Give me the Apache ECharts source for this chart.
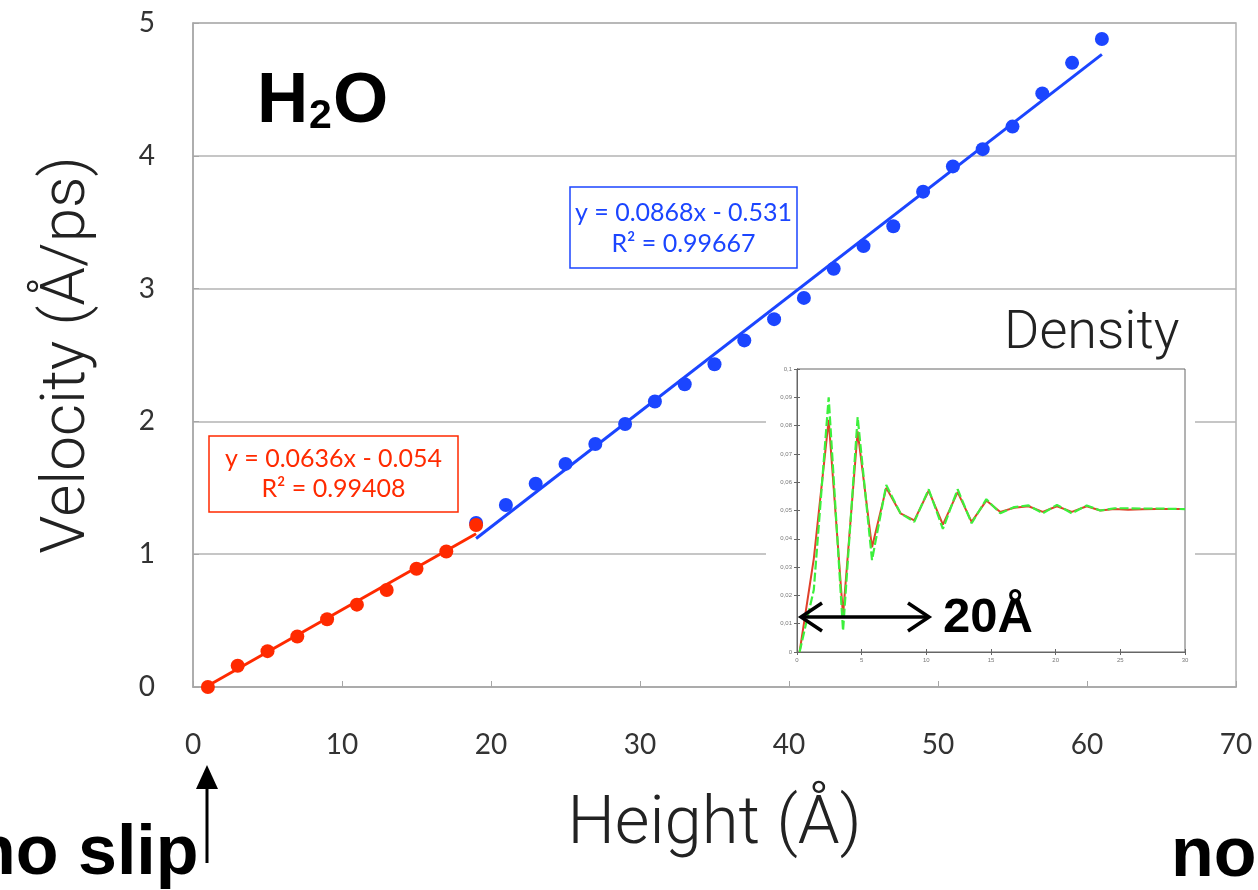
<!DOCTYPE html>
<html>
<head>
<meta charset="utf-8">
<script src="https://cdn.jsdelivr.net/npm/echarts@6/dist/echarts.min.js"></script>
<style>
  html, body { margin: 0; padding: 0; background: #ffffff; }
  #chart { width: 1258px; height: 890px; }
</style>
</head>
<body>
<div id="chart"></div>
<script>
// Velocity profile of water flowing over a wall (Height in Å, velocity in Å/ps)
const nearWallHeight   = [1, 3, 5, 7, 9, 11, 13, 15, 17, 19];
const nearWallVelocity = [0.00, 0.16, 0.27, 0.38, 0.51, 0.62, 0.73, 0.89, 1.02, 1.22];

const bulkHeight   = [19, 21, 23, 25, 27, 29, 31, 33, 35, 37, 39, 41, 43, 45, 47, 49, 51, 53, 55, 57, 59, 61];
const bulkVelocity = [1.235, 1.37, 1.53, 1.68, 1.83, 1.98, 2.15, 2.28, 2.43, 2.61, 2.77, 2.93,
                      3.15, 3.32, 3.47, 3.73, 3.92, 4.05, 4.22, 4.47, 4.70, 4.88];

// Linear fits quoted in the equation boxes
const nearWallFit = { slope: 0.0636, intercept: -0.054, r2: 0.99408 };
const bulkFit     = { slope: 0.0868, intercept: -0.531, r2: 0.99667 };

// Axis ticks of the main plot
const heightTicks   = [0, 10, 20, 30, 40, 50, 60, 70];
const velocityTicks = [0, 1, 2, 3, 4, 5];

// Density profile (inset): distance from the wall vs. density, two runs
const densityDistance = [0.2, 1.3, 2.45, 3.56, 4.69, 5.8, 6.9, 8.0, 9.07, 10.18, 11.28, 12.42, 13.5, 14.64,
                         15.72, 16.8, 17.9, 19.0, 20.1, 21.25, 22.4, 23.45, 24.56, 25.6, 26.7, 27.8, 28.9, 30.0];
const densityRunA = [0, 0.033, 0.082, 0.013, 0.078, 0.037, 0.058, 0.049, 0.0465, 0.057, 0.045, 0.0565, 0.046, 0.0535,
                     0.0495, 0.051, 0.0515, 0.0495, 0.0515, 0.0495, 0.0515, 0.0500, 0.0505, 0.0503, 0.0504, 0.0505, 0.0505, 0.0505];
const densityRunB = [0, 0.022, 0.090, 0.0075, 0.083, 0.0325, 0.059, 0.049, 0.046, 0.0575, 0.0435, 0.0575, 0.0455, 0.054,
                     0.049, 0.0512, 0.0518, 0.049, 0.052, 0.049, 0.0518, 0.0500, 0.0508, 0.0508, 0.0507, 0.0507, 0.0506, 0.0505];
const densityXTicks = [0, 5, 10, 15, 20, 25, 30];
const densityYTicks = [0, 0.01, 0.02, 0.03, 0.04, 0.05, 0.06, 0.07, 0.08, 0.09, 0.1];

const RED = '#ff2a00';
const BLUE = '#1b45ff';

function pairs(xs, ys) { return xs.map((x, i) => [x, ys[i]]); }
function fitLine(fit, xs) {
  const x0 = Math.min(...xs), x1 = Math.max(...xs);
  return [[x0, fit.slope * x0 + fit.intercept], [x1, fit.slope * x1 + fit.intercept]];
}
function fitLabel(fit) {
  const sign = fit.intercept < 0 ? '-' : '+';
  return 'y = ' + fit.slope + 'x ' + sign + ' ' + Math.abs(fit.intercept) + '\nR\u00B2 = ' + fit.r2;
}
function commaNum(v) { return String(+(+v).toFixed(2)).replace('.', ','); }

const chart = echarts.init(document.getElementById('chart'), null, { renderer: 'canvas' });

const tickFont = { fontFamily: 'Lato, "Open Sans", sans-serif', fontSize: 28, color: '#333333' };
const titleFont = { fontFamily: 'Roboto, "Open Sans", sans-serif', fontWeight: 300, fontSize: 62, color: '#222222' };
const insetLabel = { fontFamily: 'Liberation Sans, sans-serif', fontSize: 6, color: '#777777' };
const BOLD = '"Liberation Sans", Arial, sans-serif';

const option = {
  backgroundColor: '#ffffff',
  animation: false,
  grid: [
    { left: 193, top: 23, right: 22, bottom: 203, show: true, borderColor: '#b3b3b3', borderWidth: 1.5, z: 0 },
    { left: 797, top: 369, width: 388, height: 283, show: true, borderColor: '#666666', borderWidth: 1, z: 2 }
  ],
  xAxis: [
    {
      gridIndex: 0, type: 'value',
      min: heightTicks[0], max: heightTicks[heightTicks.length - 1], interval: heightTicks[1] - heightTicks[0],
      name: 'Height (\u00C5)', nameLocation: 'middle', nameGap: 106,
      nameTextStyle: Object.assign({}, titleFont, { fontSize: 67 }),
      axisLine: { lineStyle: { color: '#a6a6a6', width: 1.5 } },
      axisTick: { inside: true, length: 6, lineStyle: { color: '#a6a6a6' } },
      axisLabel: Object.assign({ margin: 44 }, tickFont),
      splitLine: { show: false }
    },
    {
      gridIndex: 1, type: 'value', z: 3,
      min: densityXTicks[0], max: densityXTicks[densityXTicks.length - 1], interval: densityXTicks[1] - densityXTicks[0],
      axisLine: { lineStyle: { color: '#666666' } },
      axisTick: { inside: true, length: 3, lineStyle: { color: '#666666' } },
      axisLabel: Object.assign({ margin: 5 }, insetLabel),
      splitLine: { show: false }
    },
    {
      gridIndex: 1, type: 'value', position: 'top', z: 3,
      min: densityXTicks[0], max: densityXTicks[densityXTicks.length - 1], interval: densityXTicks[1] - densityXTicks[0],
      axisLine: { lineStyle: { color: '#666666' } },
      axisTick: { inside: true, length: 3, lineStyle: { color: '#666666' } },
      axisLabel: { show: false },
      splitLine: { show: false }
    }
  ],
  yAxis: [
    {
      gridIndex: 0, type: 'value',
      min: velocityTicks[0], max: velocityTicks[velocityTicks.length - 1], interval: velocityTicks[1] - velocityTicks[0],
      name: 'Velocity (\u00C5/ps)', nameLocation: 'middle', nameGap: 94, nameRotate: 90, nameTextStyle: titleFont,
      axisLine: { show: true, lineStyle: { color: '#a6a6a6', width: 1.5 } },
      axisTick: { show: true, inside: true, length: 6, lineStyle: { color: '#a6a6a6' } },
      axisLabel: Object.assign({ margin: 38 }, tickFont),
      splitLine: { show: true, lineStyle: { color: '#b3b3b3', width: 1.5 } }
    },
    {
      gridIndex: 1, type: 'value', z: 3,
      min: densityYTicks[0], max: densityYTicks[densityYTicks.length - 1], interval: 0.01,
      axisLine: { show: true, lineStyle: { color: '#666666' } },
      axisTick: { show: true, inside: true, length: 3, lineStyle: { color: '#666666' } },
      axisLabel: Object.assign({ margin: 5, formatter: commaNum }, insetLabel),
      splitLine: { show: false }
    },
    {
      gridIndex: 1, type: 'value', position: 'right', z: 3,
      min: densityYTicks[0], max: densityYTicks[densityYTicks.length - 1], interval: 0.01,
      axisLine: { show: true, lineStyle: { color: '#666666' } },
      axisTick: { show: true, inside: true, length: 3, lineStyle: { color: '#666666' } },
      axisLabel: { show: false },
      splitLine: { show: false }
    }
  ],
  series: [
    {
      name: 'bulk fit', type: 'line', xAxisIndex: 0, yAxisIndex: 0, z: 3,
      data: fitLine(bulkFit, bulkHeight), showSymbol: false, silent: true,
      lineStyle: { color: BLUE, width: 3 }
    },
    {
      name: 'bulk', type: 'scatter', xAxisIndex: 0, yAxisIndex: 0, z: 4,
      data: pairs(bulkHeight, bulkVelocity), symbolSize: 14,
      itemStyle: { color: BLUE, opacity: 1 }
    },
    {
      name: 'near-wall fit', type: 'line', xAxisIndex: 0, yAxisIndex: 0, z: 5,
      data: fitLine(nearWallFit, nearWallHeight), showSymbol: false, silent: true,
      lineStyle: { color: RED, width: 3 }
    },
    {
      name: 'near wall', type: 'scatter', xAxisIndex: 0, yAxisIndex: 0, z: 6,
      data: pairs(nearWallHeight, nearWallVelocity), symbolSize: 14,
      itemStyle: { color: RED, opacity: 1 }
    },
    {
      name: 'density A', type: 'line', xAxisIndex: 1, yAxisIndex: 1, z: 4,
      data: pairs(densityDistance, densityRunA), showSymbol: false,
      lineStyle: { color: '#e0402a', width: 2 }
    },
    {
      name: 'density B', type: 'line', xAxisIndex: 1, yAxisIndex: 1, z: 5,
      data: pairs(densityDistance, densityRunB), showSymbol: false,
      lineStyle: { color: '#3cf03c', width: 2.2, type: [9, 3] }
    }
  ],
  graphic: [
    // white backdrop of the density inset
    { type: 'rect', z: 1, silent: true, shape: { x: 766, y: 361, width: 429, height: 308 }, style: { fill: '#ffffff' } },
    { type: 'text', z: 10, style: { x: 1004, y: 361, text: 'Density', textVerticalAlign: 'bottom', verticalAlign: 'bottom',
        font: '300 54px Roboto, "Open Sans", sans-serif', fill: '#222222' } },

    // H2O label
    { type: 'text', z: 10, style: { x: 257, y: 138, text: 'H', textVerticalAlign: 'bottom', verticalAlign: 'bottom',
        font: 'bold 71px ' + BOLD, fill: '#000000' } },
    { type: 'text', z: 10, style: { x: 309, y: 137, text: '2', textVerticalAlign: 'bottom', verticalAlign: 'bottom',
        font: 'bold 41px ' + BOLD, fill: '#000000' } },
    { type: 'text', z: 10, style: { x: 333, y: 138, text: 'O', textVerticalAlign: 'bottom', verticalAlign: 'bottom',
        font: 'bold 71px ' + BOLD, fill: '#000000' } },

    // fit equation boxes
    { type: 'rect', z: 10, shape: { x: 209, y: 436, width: 249, height: 76 }, style: { fill: '#ffffff', stroke: RED, lineWidth: 1.5 } },
    { type: 'text', z: 11, style: { x: 333.5, y: 474, text: fitLabel(nearWallFit), textAlign: 'center', align: 'center',
        textVerticalAlign: 'middle', verticalAlign: 'middle', lineHeight: 30,
        font: '25px Lato, "Open Sans", sans-serif', fill: RED } },
    { type: 'rect', z: 10, shape: { x: 570, y: 187, width: 227, height: 81 }, style: { fill: '#ffffff', stroke: BLUE, lineWidth: 1.5 } },
    { type: 'text', z: 11, style: { x: 683.5, y: 228, text: fitLabel(bulkFit), textAlign: 'center', align: 'center',
        textVerticalAlign: 'middle', verticalAlign: 'middle', lineHeight: 31,
        font: '25px Lato, "Open Sans", sans-serif', fill: BLUE } },

    // 20 Å double arrow in the inset
    { type: 'line', z: 12, shape: { x1: 801, y1: 617, x2: 929, y2: 617 }, style: { stroke: '#000000', lineWidth: 3.5 } },
    { type: 'polyline', z: 12, shape: { points: [[822, 603], [801, 617], [822, 631]] }, style: { stroke: '#000000', lineWidth: 3.5, fill: null } },
    { type: 'polyline', z: 12, shape: { points: [[908, 603], [929, 617], [908, 631]] }, style: { stroke: '#000000', lineWidth: 3.5, fill: null } },
    { type: 'text', z: 12, style: { x: 943, y: 643, text: '20\u00C5', verticalAlign: 'bottom', textVerticalAlign: 'bottom',
        font: 'bold 49px ' + BOLD, fill: '#000000' } },

    // no-slip marker under the axis
    { type: 'line', z: 12, shape: { x1: 207, y1: 863, x2: 207, y2: 786 }, style: { stroke: '#000000', lineWidth: 3 } },
    { type: 'polygon', z: 12, shape: { points: [[207, 765], [196, 789], [218, 789]] }, style: { fill: '#000000' } },
    { type: 'text', z: 12, style: { x: -27, y: 890, text: 'no slip', verticalAlign: 'bottom', textVerticalAlign: 'bottom',
        font: 'bold 70px ' + BOLD, fill: '#000000' } },
    { type: 'text', z: 12, style: { x: 1171, y: 892, text: 'no', verticalAlign: 'bottom', textVerticalAlign: 'bottom',
        font: 'bold 70px ' + BOLD, fill: '#000000' } }
  ]
};

chart.setOption(option);
</script>
</body>
</html>
